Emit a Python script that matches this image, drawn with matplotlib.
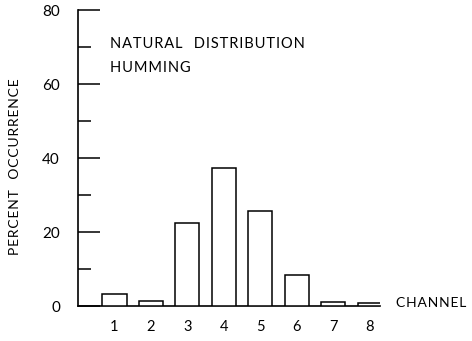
import matplotlib
matplotlib.use("Agg")
import matplotlib.pyplot as plt
from matplotlib.ticker import MultipleLocator

channels = [1, 2, 3, 4, 5, 6, 7, 8]
percent = [3.2, 1.4, 22.4, 37.3, 25.8, 8.4, 1.0, 0.8]
channel_labels = ["1", "2", "3", "4", "5", "6", "7", "8"]
y_ticks = [0, 20, 40, 60, 80]

plt.rcParams["font.family"] = ["Lato", "DejaVu Sans"]


def spaced(text):
    """Open up the letter spacing with hair spaces between characters."""
    return "\u200a".join(text)


W, H = 472, 341
fig = plt.figure(figsize=(W / 100, H / 100), dpi=100)
ax = fig.add_axes([78 / W, 1 - 306 / H, (380 - 78) / W, (306 - 10) / H])

ax.bar(channels, percent, width=0.66, facecolor="white", edgecolor="black",
       linewidth=1.1, zorder=3)

ax.set_xlim(0, 8.28)
ax.set_ylim(0, 80)

for side in ("top", "right"):
    ax.spines[side].set_visible(False)
for side in ("left", "bottom"):
    ax.spines[side].set_linewidth(1.2)

ax.set_yticks(y_ticks)
ax.set_yticklabels([str(v) for v in y_ticks], fontsize=11)
ax.yaxis.set_minor_locator(MultipleLocator(10))
ax.tick_params(axis="y", which="major", direction="in", length=16, width=1.1, pad=13)
ax.tick_params(axis="y", which="minor", direction="in", length=9.5, width=1.1)

ax.set_xticks(channels)
ax.set_xticklabels(channel_labels, fontsize=10.5)
ax.tick_params(axis="x", which="both", length=0, pad=10)

fig.text(15 / W, 1 - 167 / H, spaced("PERCENT") + "   " + spaced("OCCURRENCE"),
         rotation=90, ha="center", va="center", fontsize=10)
fig.text(396 / W, 1 - 303 / H, spaced("CHANNEL"), ha="left", va="center", fontsize=10)
fig.text(110 / W, 1 - 44.5 / H, spaced("NATURAL") + "   " + spaced("DISTRIBUTION"),
         ha="left", va="center", fontsize=10.5)
fig.text(110 / W, 1 - 67.5 / H, spaced("HUMMING"), ha="left", va="center", fontsize=10.5)

fig.savefig("out.png", dpi=100)
